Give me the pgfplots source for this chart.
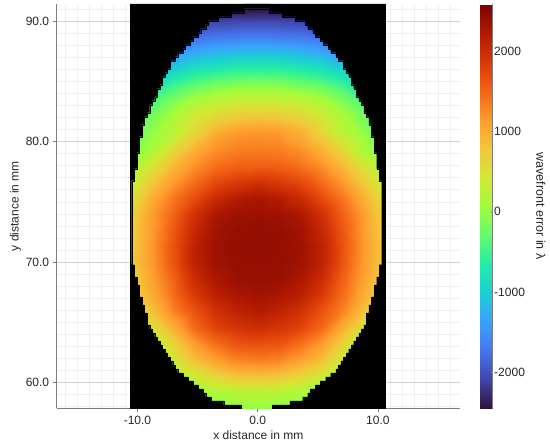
\documentclass[border=0pt]{standalone}
\usepackage{fontspec}
\setmainfont{Liberation Sans}
\usepackage{pgfplots}
\usepackage{pgfplotstable}
\pgfplotsset{compat=1.18}
\definecolor{majgrid}{HTML}{D2D2D2}
\definecolor{mingrid}{HTML}{EFEFEF}
\definecolor{axgray}{HTML}{7F7F7F}
\pgfplotsset{colormap={turbo}{
 HTML=(30123B) HTML=(4145AB) HTML=(4675ED) HTML=(39A2FC) HTML=(1BCFD4)
 HTML=(24ECA6) HTML=(61FC6C) HTML=(A4FC3B) HTML=(D1E834) HTML=(F3C63A)
 HTML=(FE9B2D) HTML=(F36315) HTML=(D93806) HTML=(B11901) HTML=(7A0403)}}
% staircase edge of the aperture: half width in cells, row edge index
\pgfplotstableread[row sep=\\]{
n k\\
-5 0\\5 0\\5 1\\10 1\\10 2\\15 2\\15 3\\19 3\\19 4\\20 4\\20 5\\22 5\\22 6\\23 6\\23 7\\25 7\\25 8\\26 8\\26 9\\28 9\\28 10\\29 10\\29 11\\31 11\\31 12\\32 12\\32 13\\34 13\\34 15\\35 15\\35 16\\36 16\\36 17\\37 17\\37 19\\38 19\\38 20\\39 20\\39 22\\40 22\\40 23\\41 23\\41 24\\42 24\\42 26\\43 26\\43 27\\44 27\\44 29\\45 29\\45 32\\46 32\\46 36\\47 36\\47 40\\48 40\\48 43\\49 43\\49 64\\48 64\\48 67\\47 67\\47 69\\46 69\\46 72\\45 72\\45 74\\44 74\\44 76\\43 76\\43 79\\42 79\\42 80\\41 80\\41 81\\40 81\\40 82\\39 82\\39 83\\38 83\\38 84\\37 84\\37 85\\36 85\\36 86\\35 86\\35 87\\34 87\\34 88\\33 88\\33 89\\32 89\\32 90\\31 90\\31 91\\29 91\\29 92\\27 92\\27 93\\25 93\\25 94\\23 94\\23 95\\21 95\\21 96\\20 96\\20 97\\18 97\\18 98\\13 98\\13 99\\6 99\\6 100\\51 100\\51 -1.2\\-5 -1.2\\
}\stair
\begin{document}
\begin{tikzpicture}[x=1pt,y=1pt]
\path[use as bounding box] (-56.7pt,-39.7pt) rectangle (493.3pt,408.3pt);
\begin{axis}[
 scale only axis, width=403.3pt, height=404.3pt,
 at={(0pt,0pt)}, anchor=south west,
 xmin=-16.72, xmax=16.83, ymin=57.84, ymax=91.44,
 enlargelimits=false,
 axis x line*=bottom, axis y line*=left,
 axis line style={axgray,line width=.8pt,-},
 xtick={-10,0,10}, ytick={60,70,80,90},
 minor xtick={-16,-15,...,16}, minor ytick={58,59,...,91},
 grid=both,
 major grid style={majgrid,line width=.6pt},
 minor grid style={mingrid,line width=.6pt},
 tick align=outside, major tick length=4pt, minor tick length=0pt,
 tick style={axgray,line width=.6pt},
 tick label style={font=\fontsize{12}{14}\selectfont,text=black!85},
 /pgf/number format/assume math mode=true,
 /pgf/number format/fixed, /pgf/number format/fixed zerofill, /pgf/number format/precision=1,
 xlabel={x distance in mm}, ylabel={y distance in mm},
 label style={font=\fontsize{12}{14}\selectfont,text=black!85},
 xlabel style={at={(axis description cs:0.5,0)},anchor=north,yshift=-19pt},
 ylabel style={at={(axis description cs:0,0.5)},anchor=south,rotate=0,yshift=32pt},
 colormap name=turbo,
 point meta min=-2450, point meta max=2590,
 colorbar,
 colorbar style={
  at={(1.0496,0)}, anchor=south west,
  width=12.7pt, height=404.3pt,
  ymin=-2450, ymax=2590,
  ytick={-2000,-1000,0,1000,2000},
  /pgf/number format/fixed, /pgf/number format/precision=0, /pgf/number format/fixed zerofill=false,
  /pgf/number format/1000 sep={},
  /pgf/number format/assume math mode=true,
  axis x line=none, axis y line*=right,
  axis line style={axgray,line width=.5pt,-},
  major tick length=1.5pt, tick style={axgray},
  yticklabel style={font=\fontsize{12}{14}\selectfont,text=black!85,xshift=-2pt},
  ylabel={wavefront error in λ},
  ylabel style={font=\fontsize{12.5}{14}\selectfont,text=black!85,rotate=180,at={(axis description cs:4.8,0.5)},anchor=center},
 },
]
\addplot[surf, shader=interp, mesh/cols=13, point meta=explicit, forget plot]
 table[row sep=\\, x=x, y=y, meta=v]{
x y v\\
-10.62 91.05 -2450\\-8.85 91.05 -2450\\-7.08 91.05 -2450\\-5.31 91.05 -2450\\-3.54 91.05 -2450\\-1.77 91.05 -2450\\0 91.05 -2450\\1.77 91.05 -2450\\3.54 91.05 -2450\\5.31 91.05 -2450\\7.08 91.05 -2450\\8.85 91.05 -2450\\10.62 91.05 -2450\\
-10.62 90.10 -2450\\-8.85 90.10 -2400\\-7.08 90.10 -2300\\-5.31 90.10 -2200\\-3.54 90.10 -2130\\-1.77 90.10 -2110\\0 90.10 -2110\\1.77 90.10 -2110\\3.54 90.10 -2130\\5.31 90.10 -2200\\7.08 90.10 -2300\\8.85 90.10 -2400\\10.62 90.10 -2450\\
-10.62 88.75 -2300\\-8.85 88.75 -2100\\-7.08 88.75 -1950\\-5.31 88.75 -1800\\-3.54 88.75 -1720\\-1.77 88.75 -1690\\0 88.75 -1680\\1.77 88.75 -1690\\3.54 88.75 -1720\\5.31 88.75 -1800\\7.08 88.75 -1950\\8.85 88.75 -2100\\10.62 88.75 -2300\\
-10.62 87.41 -2000\\-8.85 87.41 -1800\\-7.08 87.41 -1500\\-5.31 87.41 -1320\\-3.54 87.41 -1220\\-1.77 87.41 -1170\\0 87.41 -1150\\1.77 87.41 -1170\\3.54 87.41 -1220\\5.31 87.41 -1320\\7.08 87.41 -1500\\8.85 87.41 -1800\\10.62 87.41 -2000\\
-10.62 86.06 -1600\\-8.85 86.06 -1300\\-7.08 86.06 -1000\\-5.31 86.06 -800\\-3.54 86.06 -700\\-1.77 86.06 -620\\0 86.06 -600\\1.77 86.06 -620\\3.54 86.06 -700\\5.31 86.06 -800\\7.08 86.06 -1000\\8.85 86.06 -1300\\10.62 86.06 -1600\\
-10.62 84.72 -1200\\-8.85 84.72 -850\\-7.08 84.72 -500\\-5.31 84.72 -300\\-3.54 84.72 -180\\-1.77 84.72 -100\\0 84.72 -80\\1.77 84.72 -100\\3.54 84.72 -180\\5.31 84.72 -300\\7.08 84.72 -500\\8.85 84.72 -850\\10.62 84.72 -1200\\
-10.62 83.38 -800\\-8.85 83.38 -420\\-7.08 83.38 -120\\-5.31 83.38 120\\-3.54 83.38 290\\-1.77 83.38 360\\0 83.38 380\\1.77 83.38 360\\3.54 83.38 290\\5.31 83.38 120\\7.08 83.38 -120\\8.85 83.38 -420\\10.62 83.38 -800\\
-10.62 82.03 -600\\-8.85 82.03 -180\\-7.08 82.03 130\\-5.31 82.03 430\\-3.54 82.03 640\\-1.77 82.03 760\\0 82.03 800\\1.77 82.03 760\\3.54 82.03 640\\5.31 82.03 430\\7.08 82.03 130\\8.85 82.03 -180\\10.62 82.03 -600\\
-10.62 80.69 -300\\-8.85 80.69 -20\\-7.08 80.69 250\\-5.31 80.69 620\\-3.54 80.69 1000\\-1.77 80.69 1160\\0 80.69 1200\\1.77 80.69 1160\\3.54 80.69 1000\\5.31 80.69 620\\7.08 80.69 250\\8.85 80.69 -20\\10.62 80.69 -300\\
-10.62 79.34 -150\\-8.85 79.34 100\\-7.08 79.34 600\\-5.31 79.34 980\\-3.54 79.34 1230\\-1.77 79.34 1330\\0 79.34 1350\\1.77 79.34 1330\\3.54 79.34 1230\\5.31 79.34 980\\7.08 79.34 600\\8.85 79.34 100\\10.62 79.34 -150\\
-10.62 78.00 100\\-8.85 78.00 480\\-7.08 78.00 900\\-5.31 78.00 1220\\-3.54 78.00 1430\\-1.77 78.00 1530\\0 78.00 1550\\1.77 78.00 1530\\3.54 78.00 1430\\5.31 78.00 1220\\7.08 78.00 900\\8.85 78.00 480\\10.62 78.00 100\\
-10.62 76.66 250\\-8.85 76.66 750\\-7.08 76.66 1150\\-5.31 76.66 1450\\-3.54 76.66 1720\\-1.77 76.66 1850\\0 76.66 1950\\1.77 76.66 1850\\3.54 76.66 1720\\5.31 76.66 1450\\7.08 76.66 1150\\8.85 76.66 750\\10.62 76.66 250\\
-10.62 75.31 480\\-8.85 75.31 980\\-7.08 75.31 1380\\-5.31 75.31 1700\\-3.54 75.31 2020\\-1.77 75.31 2200\\0 75.31 2270\\1.77 75.31 2200\\3.54 75.31 2020\\5.31 75.31 1700\\7.08 75.31 1380\\8.85 75.31 980\\10.62 75.31 480\\
-10.62 73.97 620\\-8.85 73.97 1120\\-7.08 73.97 1520\\-5.31 73.97 1950\\-3.54 73.97 2260\\-1.77 73.97 2350\\0 73.97 2370\\1.77 73.97 2350\\3.54 73.97 2260\\5.31 73.97 1950\\7.08 73.97 1520\\8.85 73.97 1120\\10.62 73.97 620\\
-10.62 72.62 680\\-8.85 72.62 1120\\-7.08 72.62 1600\\-5.31 72.62 2050\\-3.54 72.62 2330\\-1.77 72.62 2400\\0 72.62 2420\\1.77 72.62 2400\\3.54 72.62 2330\\5.31 72.62 2050\\7.08 72.62 1600\\8.85 72.62 1120\\10.62 72.62 680\\
-10.62 71.28 720\\-8.85 71.28 1150\\-7.08 71.28 1650\\-5.31 71.28 2120\\-3.54 71.28 2350\\-1.77 71.28 2420\\0 71.28 2430\\1.77 71.28 2420\\3.54 71.28 2350\\5.31 71.28 2120\\7.08 71.28 1650\\8.85 71.28 1150\\10.62 71.28 720\\
-10.62 69.94 720\\-8.85 69.94 1130\\-7.08 69.94 1620\\-5.31 69.94 2120\\-3.54 69.94 2340\\-1.77 69.94 2400\\0 69.94 2410\\1.77 69.94 2400\\3.54 69.94 2340\\5.31 69.94 2120\\7.08 69.94 1620\\8.85 69.94 1130\\10.62 69.94 720\\
-10.62 68.59 620\\-8.85 68.59 1080\\-7.08 68.59 1520\\-5.31 68.59 2000\\-3.54 68.59 2260\\-1.77 68.59 2380\\0 68.59 2400\\1.77 68.59 2380\\3.54 68.59 2260\\5.31 68.59 2000\\7.08 68.59 1520\\8.85 68.59 1080\\10.62 68.59 620\\
-10.62 67.25 600\\-8.85 67.25 1000\\-7.08 67.25 1450\\-5.31 67.25 1850\\-3.54 67.25 2150\\-1.77 67.25 2270\\0 67.25 2340\\1.77 67.25 2270\\3.54 67.25 2150\\5.31 67.25 1850\\7.08 67.25 1450\\8.85 67.25 1000\\10.62 67.25 600\\
-10.62 65.90 400\\-8.85 65.90 800\\-7.08 65.90 1300\\-5.31 65.90 1640\\-3.54 65.90 1950\\-1.77 65.90 2120\\0 65.90 2200\\1.77 65.90 2120\\3.54 65.90 1950\\5.31 65.90 1640\\7.08 65.90 1300\\8.85 65.90 800\\10.62 65.90 400\\
-10.62 64.56 150\\-8.85 64.56 500\\-7.08 64.56 1000\\-5.31 64.56 1480\\-3.54 64.56 1780\\-1.77 64.56 1930\\0 64.56 2000\\1.77 64.56 1930\\3.54 64.56 1780\\5.31 64.56 1480\\7.08 64.56 1000\\8.85 64.56 500\\10.62 64.56 150\\
-10.62 63.22 -200\\-8.85 63.22 150\\-7.08 63.22 650\\-5.31 63.22 1130\\-3.54 63.22 1430\\-1.77 63.22 1620\\0 63.22 1660\\1.77 63.22 1620\\3.54 63.22 1430\\5.31 63.22 1130\\7.08 63.22 650\\8.85 63.22 150\\10.62 63.22 -200\\
-10.62 61.87 -400\\-8.85 61.87 -100\\-7.08 61.87 400\\-5.31 61.87 850\\-3.54 61.87 1100\\-1.77 61.87 1300\\0 61.87 1340\\1.77 61.87 1300\\3.54 61.87 1100\\5.31 61.87 850\\7.08 61.87 400\\8.85 61.87 -100\\10.62 61.87 -400\\
-10.62 60.53 -600\\-8.85 60.53 -300\\-7.08 60.53 100\\-5.31 60.53 380\\-3.54 60.53 650\\-1.77 60.53 800\\0 60.53 850\\1.77 60.53 800\\3.54 60.53 650\\5.31 60.53 380\\7.08 60.53 100\\8.85 60.53 -300\\10.62 60.53 -600\\
-10.62 59.18 -800\\-8.85 59.18 -500\\-7.08 59.18 -150\\-5.31 59.18 20\\-3.54 59.18 150\\-1.77 59.18 230\\0 59.18 250\\1.77 59.18 230\\3.54 59.18 150\\5.31 59.18 20\\7.08 59.18 -150\\8.85 59.18 -500\\10.62 59.18 -800\\
-10.62 57.84 -1000\\-8.85 57.84 -700\\-7.08 57.84 -400\\-5.31 57.84 -200\\-3.54 57.84 -100\\-1.77 57.84 -50\\0 57.84 -30\\1.77 57.84 -50\\3.54 57.84 -100\\5.31 57.84 -200\\7.08 57.84 -400\\8.85 57.84 -700\\10.62 57.84 -1000\\
};
\addplot[fill=black, draw=black, line width=.05pt, forget plot]
 table[x expr={max(-10.62,-0.08-\thisrow{n}*0.2122)}, y expr={91.05-\thisrow{k}*0.3325}]{\stair};
\addplot[fill=black, draw=black, line width=.05pt, forget plot]
 table[x expr={min(10.62,-0.08+\thisrow{n}*0.2122)}, y expr={91.05-\thisrow{k}*0.3325}]{\stair};
\end{axis}
\end{tikzpicture}
\end{document}
